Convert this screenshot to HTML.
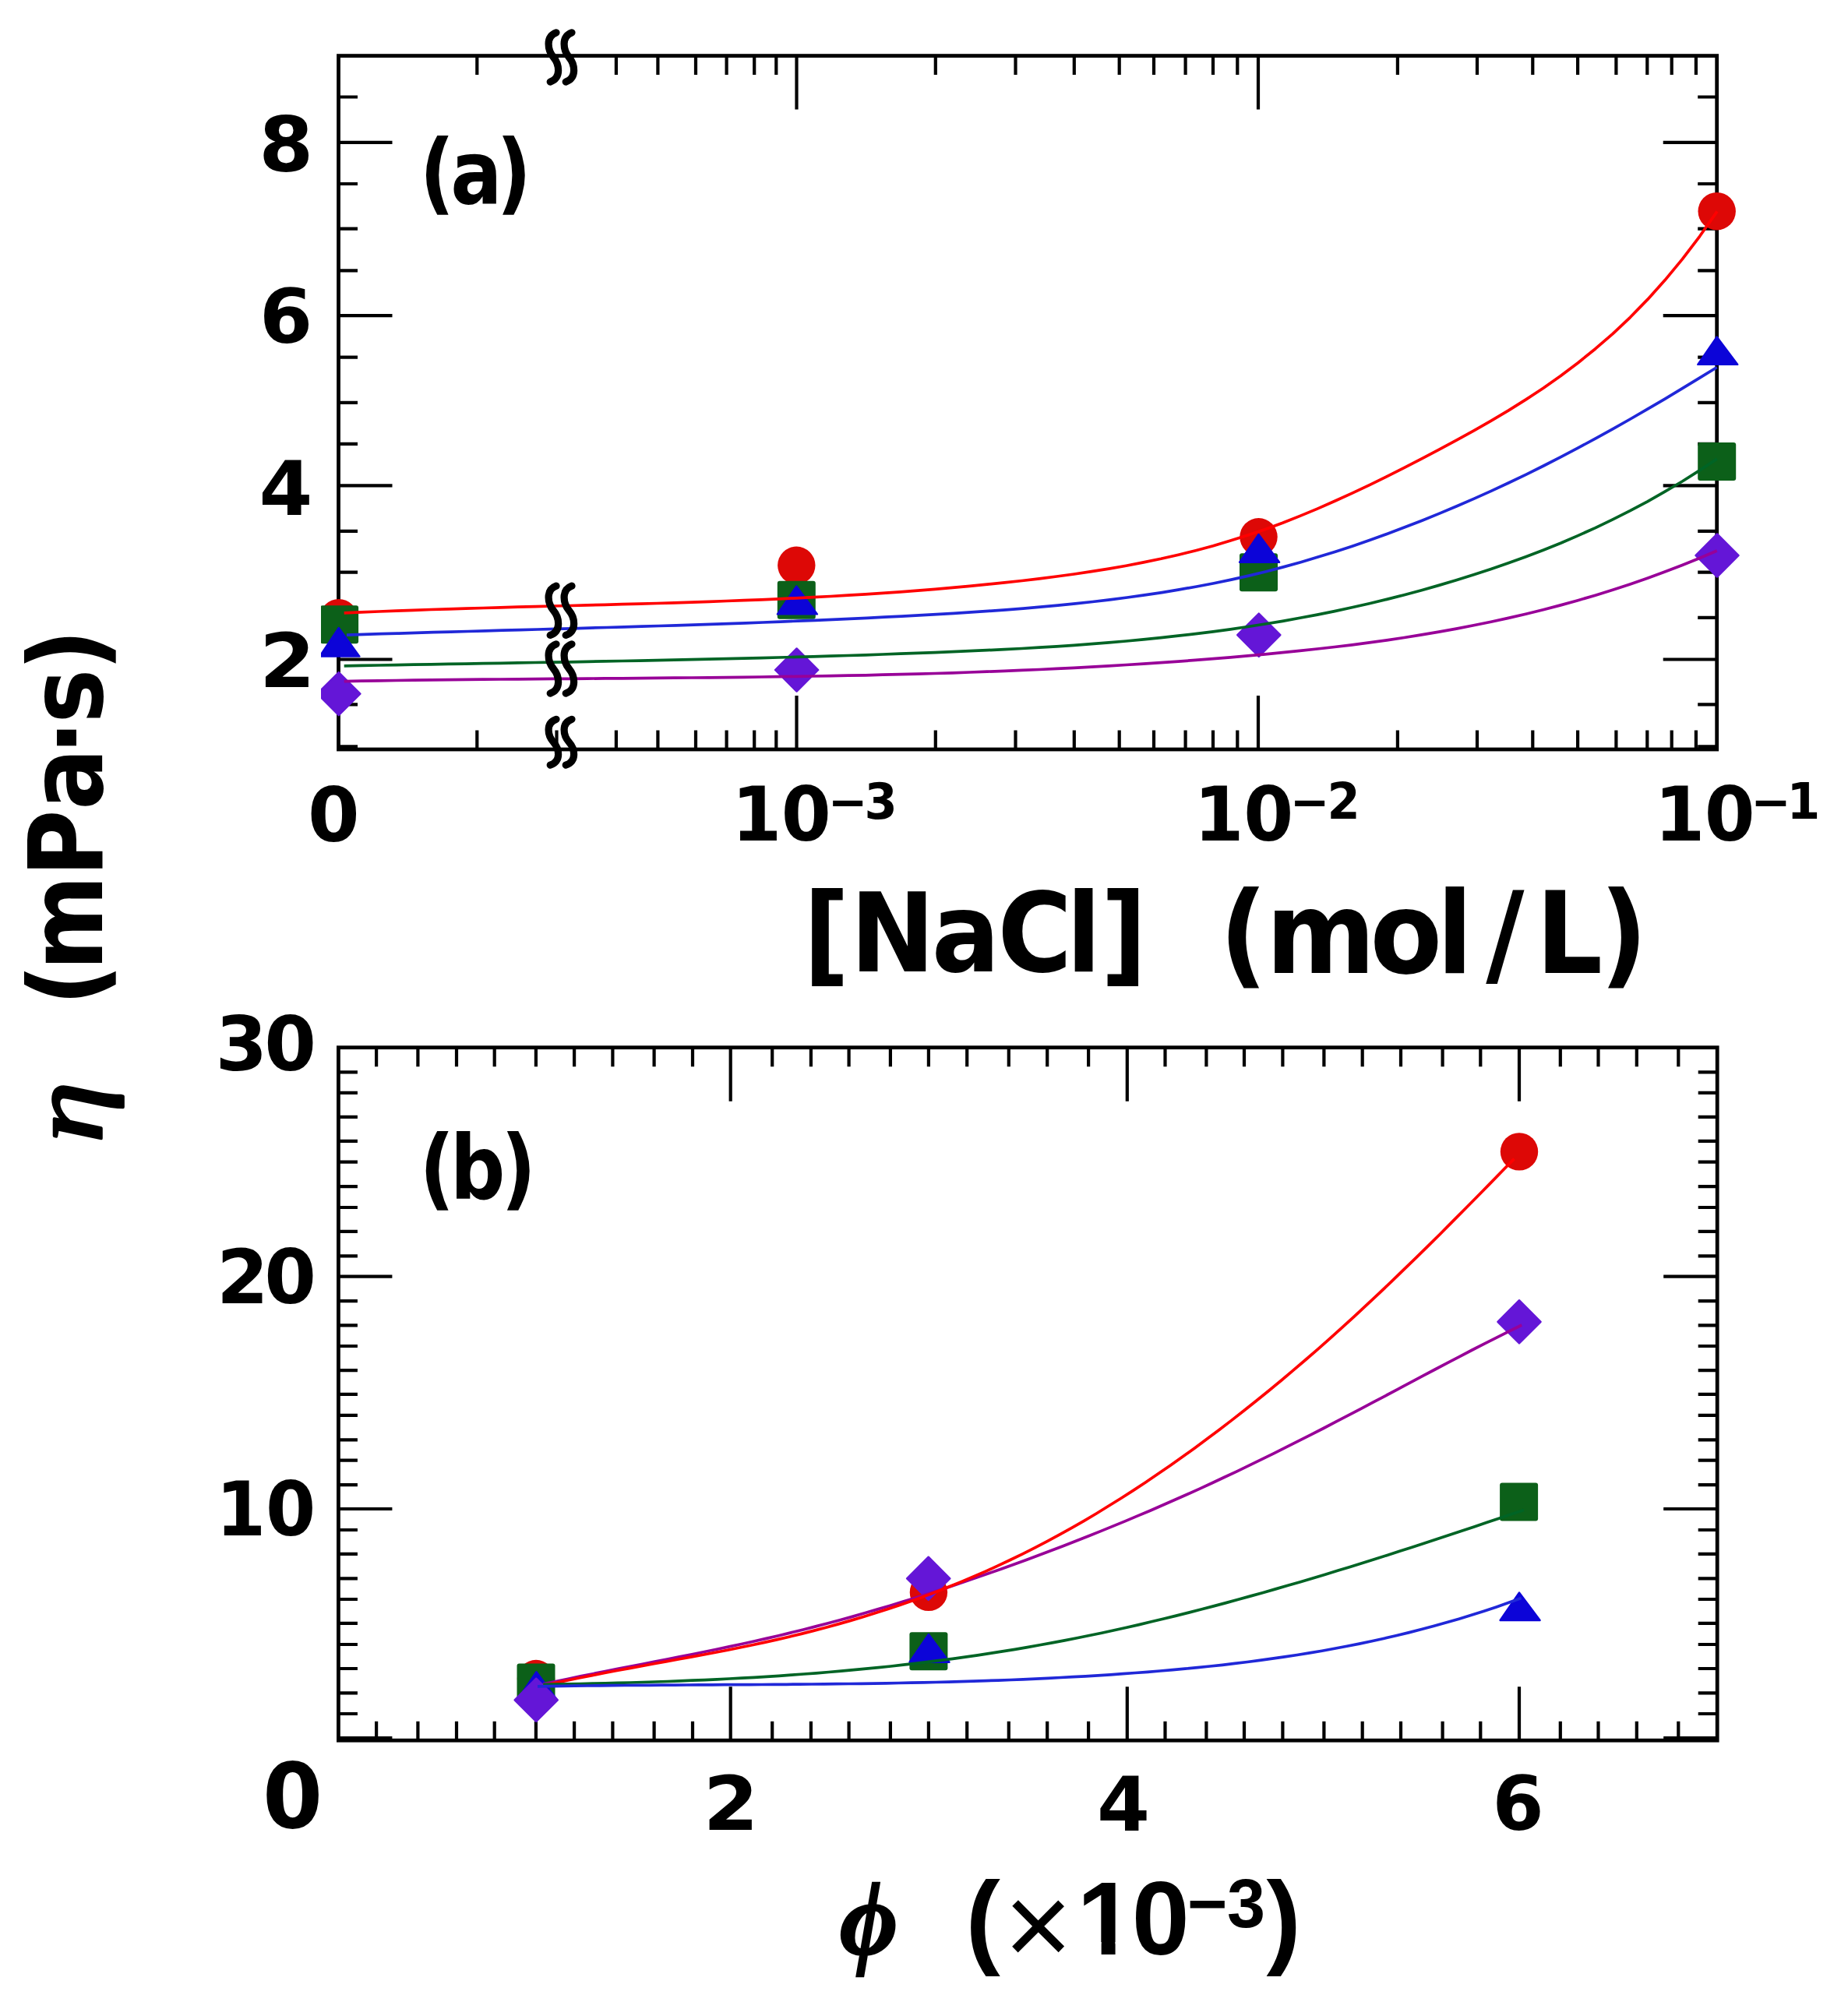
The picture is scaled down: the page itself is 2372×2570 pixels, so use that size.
<!DOCTYPE html>
<html lang="en">
<head>
<meta charset="utf-8">
<style>
html,body{margin:0;padding:0;background:#fff}
svg{display:block}
text{white-space:pre}
</style>
</head>
<body>
<svg width="2372" height="2570" viewBox="0 0 2372 2570">
<rect x="0" y="0" width="2372" height="2570" fill="#ffffff"/>
<g stroke="#000000" stroke-width="4.8" fill="none" stroke-linecap="butt">
<rect x="434.5" y="71.6" width="1769.2" height="890.4"/>
<path d="M434.5,124.5h24.5 M2203.7,124.5h-24.5 M434.5,182.8h69.0 M2203.7,182.8h-69.0 M434.5,236.0h24.5 M2203.7,236.0h-24.5 M434.5,293.6h24.5 M2203.7,293.6h-24.5 M434.5,347.4h24.5 M2203.7,347.4h-24.5 M434.5,405.2h69.0 M2203.7,405.2h-69.0 M434.5,458.6h24.5 M2203.7,458.6h-24.5 M434.5,516.8h24.5 M2203.7,516.8h-24.5 M434.5,569.8h24.5 M2203.7,569.8h-24.5 M434.5,623.3h69.0 M2203.7,623.3h-69.0 M434.5,681.8h24.5 M2203.7,681.8h-24.5 M434.5,734.6h24.5 M2203.7,734.6h-24.5 M434.5,792.9h24.5 M2203.7,792.9h-24.5 M434.5,846.5h69.0 M2203.7,846.5h-69.0 M434.5,904.3h24.5 M2203.7,904.3h-24.5 M434.5,958.3h24.5 M2203.7,958.3h-24.5 " stroke-width="4.2"/>
<path d="M612.3,71.6v24.5 M612.3,962.0v-24.5 M714.5,71.6v24.5 M714.5,962.0v-24.5 M790.9,71.6v24.5 M790.9,962.0v-24.5 M844.4,71.6v24.5 M844.4,962.0v-24.5 M893.0,71.6v24.5 M893.0,962.0v-24.5 M932.6,71.6v24.5 M932.6,962.0v-24.5 M968.2,71.6v24.5 M968.2,962.0v-24.5 M996.3,71.6v24.5 M996.3,962.0v-24.5 M1200.8,71.6v24.5 M1200.8,962.0v-24.5 M1303.5,71.6v24.5 M1303.5,962.0v-24.5 M1378.8,71.6v24.5 M1378.8,962.0v-24.5 M1436.7,71.6v24.5 M1436.7,962.0v-24.5 M1481.0,71.6v24.5 M1481.0,962.0v-24.5 M1521.6,71.6v24.5 M1521.6,962.0v-24.5 M1557.0,71.6v24.5 M1557.0,962.0v-24.5 M1588.3,71.6v24.5 M1588.3,962.0v-24.5 M1022.5,71.6v69.0 M1022.5,962.0v-69.0 M1793.9,71.6v24.5 M1793.9,962.0v-24.5 M1896.0,71.6v24.5 M1896.0,962.0v-24.5 M1967.3,71.6v24.5 M1967.3,962.0v-24.5 M2025.1,71.6v24.5 M2025.1,962.0v-24.5 M2074.4,71.6v24.5 M2074.4,962.0v-24.5 M2114.3,71.6v24.5 M2114.3,962.0v-24.5 M2145.7,71.6v24.5 M2145.7,962.0v-24.5 M2176.9,71.6v24.5 M2176.9,962.0v-24.5 M1615.0,71.6v69.0 M1615.0,962.0v-69.0 " stroke-width="4.2"/>
</g>
<clipPath id="cl0"><rect x="411.9" y="0" width="400" height="1200"/></clipPath>
<g clip-path="url(#cl0)">
<circle cx="434.8" cy="793.1" r="24.2" fill="#dd0806"/>
<rect x="411.1" y="777.2" width="49.0" height="49.0" rx="3" fill="#0c6019"/>
<polygon points="434.8,806.0 461.4,842.6 410.4,842.6" fill="#0c04d8" stroke="#0c04d8" stroke-width="2.4" stroke-linejoin="round"/>
<polygon points="434.8,863.0 462.4,890.6 434.8,918.2 407.2,890.6" fill="#6416d7" stroke="#6416d7" stroke-width="2.4" stroke-linejoin="round"/>
</g>
<circle cx="1022.3" cy="725.8" r="24.2" fill="#dd0806"/>
<rect x="997.8" y="745.7" width="49.0" height="49.0" rx="3" fill="#0c6019"/>
<polygon points="1022.3,752.5 1048.9,788.4 997.9,788.4" fill="#0c04d8" stroke="#0c04d8" stroke-width="2.4" stroke-linejoin="round"/>
<polygon points="1022.6,832.4 1050.2,860.0 1022.6,887.6 995.0,860.0" fill="#6416d7" stroke="#6416d7" stroke-width="2.4" stroke-linejoin="round"/>
<circle cx="1615.5" cy="689.3" r="24.2" fill="#dd0806"/>
<rect x="1591.0" y="710.3" width="49.0" height="49.0" rx="3" fill="#0c6019"/>
<polygon points="1615.5,686.0 1642.1,721.8 1591.1,721.8" fill="#0c04d8" stroke="#0c04d8" stroke-width="2.4" stroke-linejoin="round"/>
<polygon points="1615.8,787.6 1643.4,815.2 1615.8,842.8 1588.2,815.2" fill="#6416d7" stroke="#6416d7" stroke-width="2.4" stroke-linejoin="round"/>
<circle cx="2203.7" cy="271.2" r="24.2" fill="#dd0806"/>
<rect x="2179.2" y="567.9" width="49.0" height="49.0" rx="3" fill="#0c6019"/>
<polygon points="2203.7,432.4 2230.3,467.9 2179.3,467.9" fill="#0c04d8" stroke="#0c04d8" stroke-width="2.4" stroke-linejoin="round"/>
<polygon points="2204.0,685.4 2231.6,713.0 2204.0,740.6 2176.4,713.0" fill="#6416d7" stroke="#6416d7" stroke-width="2.4" stroke-linejoin="round"/>
<path d="M441.7,786.9 L464.0,785.9 L486.3,785.0 L508.6,784.1 L530.9,783.3 L553.2,782.5 L575.5,781.8 L597.9,781.1 L620.2,780.5 L642.5,779.8 L664.8,779.2 L687.1,778.6 L709.4,778.0 L731.7,777.5 L754.0,776.9 L776.3,776.3 L798.6,775.7 L820.9,775.1 L843.2,774.5 L865.5,773.8 L887.9,773.1 L910.2,772.3 L932.5,771.5 L954.8,770.7 L977.1,769.8 L999.4,768.8 L1021.7,767.8 L1044.0,766.7 L1066.3,765.5 L1088.6,764.2 L1110.9,762.9 L1133.2,761.4 L1155.5,759.8 L1177.9,758.2 L1200.2,756.4 L1222.5,754.4 L1244.8,752.4 L1267.1,750.2 L1289.4,747.9 L1311.7,745.5 L1334.0,742.9 L1356.3,740.0 L1378.6,737.0 L1400.9,733.7 L1423.2,730.1 L1445.5,726.2 L1467.8,721.9 L1490.2,717.3 L1512.5,712.2 L1534.8,706.7 L1557.1,700.7 L1579.4,694.1 L1601.7,687.1 L1624.0,679.4 L1646.3,671.2 L1668.6,662.4 L1690.9,653.1 L1713.2,643.3 L1735.5,633.1 L1757.8,622.6 L1780.2,611.6 L1802.5,600.4 L1824.8,588.9 L1847.1,577.2 L1869.4,565.2 L1891.7,552.9 L1914.0,540.2 L1936.3,526.9 L1958.6,512.9 L1980.9,498.2 L2003.2,482.5 L2025.5,465.7 L2047.8,447.7 L2070.2,428.3 L2092.5,407.3 L2114.8,384.4 L2137.1,359.6 L2159.4,332.6 L2181.7,303.3 L2204.0,271.4" fill="none" stroke="#ff0000" stroke-width="3.7" stroke-linecap="butt" stroke-linejoin="round"/>
<path d="M445.0,815.2 L467.3,814.4 L489.5,813.7 L511.8,813.1 L534.1,812.4 L556.3,811.7 L578.6,811.1 L600.8,810.5 L623.1,809.9 L645.4,809.2 L667.6,808.6 L689.9,808.0 L712.2,807.4 L734.4,806.8 L756.7,806.1 L778.9,805.5 L801.2,804.8 L823.5,804.2 L845.7,803.5 L868.0,802.8 L890.3,802.1 L912.5,801.3 L934.8,800.6 L957.1,799.8 L979.3,799.0 L1001.6,798.1 L1023.8,797.2 L1046.1,796.3 L1068.4,795.3 L1090.6,794.3 L1112.9,793.3 L1135.2,792.2 L1157.4,791.1 L1179.7,789.9 L1202.0,788.6 L1224.2,787.3 L1246.5,785.9 L1268.7,784.4 L1291.0,782.8 L1313.3,781.1 L1335.5,779.2 L1357.8,777.1 L1380.1,774.9 L1402.3,772.5 L1424.6,769.9 L1446.8,767.0 L1469.1,763.9 L1491.4,760.6 L1513.6,756.9 L1535.9,753.0 L1558.2,748.7 L1580.4,744.1 L1602.7,739.1 L1625.0,733.7 L1647.2,727.9 L1669.5,721.7 L1691.7,715.1 L1714.0,708.2 L1736.3,700.9 L1758.5,693.2 L1780.8,685.2 L1803.1,676.8 L1825.3,668.2 L1847.6,659.1 L1869.9,649.8 L1892.1,640.1 L1914.4,630.1 L1936.6,619.8 L1958.9,609.1 L1981.2,598.0 L2003.4,586.6 L2025.7,574.9 L2048.0,562.9 L2070.2,550.6 L2092.5,538.0 L2114.7,525.2 L2137.0,512.1 L2159.3,498.7 L2181.5,485.2 L2203.8,471.5" fill="none" stroke="#2028d8" stroke-width="3.7" stroke-linecap="butt" stroke-linejoin="round"/>
<path d="M441.7,854.8 L464.0,854.4 L486.3,854.0 L508.6,853.6 L530.9,853.2 L553.2,852.8 L575.5,852.4 L597.8,852.1 L620.1,851.7 L642.4,851.3 L664.8,850.9 L687.1,850.5 L709.4,850.1 L731.7,849.8 L754.0,849.3 L776.3,848.9 L798.6,848.5 L820.9,848.1 L843.2,847.6 L865.5,847.2 L887.8,846.7 L910.1,846.2 L932.4,845.7 L954.7,845.2 L977.0,844.6 L999.3,844.0 L1021.6,843.4 L1043.9,842.8 L1066.2,842.2 L1088.5,841.5 L1110.9,840.8 L1133.2,840.0 L1155.5,839.2 L1177.8,838.4 L1200.1,837.6 L1222.4,836.7 L1244.7,835.7 L1267.0,834.7 L1289.3,833.6 L1311.6,832.5 L1333.9,831.2 L1356.2,829.8 L1378.5,828.3 L1400.8,826.7 L1423.1,824.9 L1445.4,823.0 L1467.7,820.9 L1490.0,818.7 L1512.3,816.2 L1534.6,813.6 L1557.0,810.8 L1579.3,807.8 L1601.6,804.5 L1623.9,801.0 L1646.2,797.3 L1668.5,793.3 L1690.8,789.1 L1713.1,784.6 L1735.4,779.8 L1757.7,774.7 L1780.0,769.4 L1802.3,763.7 L1824.6,757.7 L1846.9,751.4 L1869.2,744.8 L1891.5,737.8 L1913.8,730.5 L1936.1,722.8 L1958.4,714.7 L1980.7,706.2 L2003.1,697.2 L2025.4,687.6 L2047.7,677.6 L2070.0,666.9 L2092.3,655.7 L2114.6,643.8 L2136.9,631.2 L2159.2,618.0 L2181.5,603.9 L2203.8,589.1" fill="none" stroke="#006425" stroke-width="3.7" stroke-linecap="butt" stroke-linejoin="round"/>
<path d="M441.7,874.6 L464.0,874.2 L486.3,873.8 L508.6,873.5 L530.9,873.2 L553.2,872.9 L575.5,872.6 L597.8,872.4 L620.1,872.2 L642.4,872.0 L664.8,871.8 L687.1,871.6 L709.4,871.4 L731.7,871.3 L754.0,871.1 L776.3,870.9 L798.6,870.8 L820.9,870.6 L843.2,870.4 L865.5,870.2 L887.8,870.0 L910.1,869.8 L932.4,869.6 L954.7,869.3 L977.0,869.0 L999.3,868.7 L1021.6,868.4 L1043.9,868.0 L1066.2,867.6 L1088.5,867.2 L1110.9,866.8 L1133.2,866.2 L1155.5,865.7 L1177.8,865.1 L1200.1,864.5 L1222.4,863.8 L1244.7,863.0 L1267.0,862.2 L1289.3,861.4 L1311.6,860.4 L1333.9,859.5 L1356.2,858.4 L1378.5,857.3 L1400.8,856.1 L1423.1,854.9 L1445.4,853.5 L1467.7,852.1 L1490.0,850.6 L1512.3,849.1 L1534.6,847.4 L1557.0,845.6 L1579.3,843.8 L1601.6,841.9 L1623.9,839.9 L1646.2,837.7 L1668.5,835.4 L1690.8,833.0 L1713.1,830.5 L1735.4,827.8 L1757.7,824.9 L1780.0,821.8 L1802.3,818.5 L1824.6,814.9 L1846.9,811.2 L1869.2,807.1 L1891.5,802.8 L1913.8,798.3 L1936.1,793.4 L1958.4,788.2 L1980.7,782.8 L2003.1,776.9 L2025.4,770.7 L2047.7,764.2 L2070.0,757.3 L2092.3,750.0 L2114.6,742.2 L2136.9,734.1 L2159.2,725.5 L2181.5,716.5 L2203.8,707.0" fill="none" stroke="#980098" stroke-width="3.7" stroke-linecap="butt" stroke-linejoin="round"/>
<path d="M714.0,41.9 C699.9,47.0 702.9,64.5 710.4,73.5 C717.9,82.5 720.9,100.0 706.2,105.1 M734.0,41.9 C719.9,47.0 722.9,64.5 730.4,73.5 C737.9,82.5 740.9,100.0 726.2,105.1" fill="none" stroke="#000000" stroke-width="9.2" stroke-linecap="round"/>
<path d="M714.0,752.2 C699.9,757.3 702.9,774.8 710.4,783.8 C717.9,792.8 720.9,810.3 706.2,815.4 M734.0,752.2 C719.9,757.3 722.9,774.8 730.4,783.8 C737.9,792.8 740.9,810.3 726.2,815.4" fill="none" stroke="#000000" stroke-width="9.2" stroke-linecap="round"/>
<path d="M714.0,826.9 C699.9,832.0 702.9,849.5 710.4,858.5 C717.9,867.5 720.9,885.0 706.2,890.1 M734.0,826.9 C719.9,832.0 722.9,849.5 730.4,858.5 C737.9,867.5 740.9,885.0 726.2,890.1" fill="none" stroke="#000000" stroke-width="9.2" stroke-linecap="round"/>
<path d="M714.0,923.3 C699.9,928.1 702.9,944.3 710.4,952.7 C717.9,961.1 720.9,977.3 706.2,982.1 M734.0,923.3 C719.9,928.1 722.9,944.3 730.4,952.7 C737.9,961.1 740.9,977.3 726.2,982.1" fill="none" stroke="#000000" stroke-width="9.2" stroke-linecap="round"/>
<g fill="#000000">
<text transform="matrix(1.0057 0 0 0.9771 332.16 219.52)" font-size="100" font-family="'DejaVu Sans', 'Liberation Sans', sans-serif" font-weight="bold" >8</text>
<text transform="matrix(0.9809 0 0 0.9664 332.92 440.33)" font-size="100" font-family="'DejaVu Sans', 'Liberation Sans', sans-serif" font-weight="bold" >6</text>
<text transform="matrix(0.9901 0 0 0.9588 332.55 660.90)" font-size="100" font-family="'DejaVu Sans', 'Liberation Sans', sans-serif" font-weight="bold" >4</text>
<text transform="matrix(1.0363 0 0 0.9607 332.80 882.00)" font-size="100" font-family="'DejaVu Sans', 'Liberation Sans', sans-serif" font-weight="bold" >2</text>
<text transform="matrix(0.9582 0 0 0.9612 394.91 1079.84)" font-size="100" font-family="'DejaVu Sans', 'Liberation Sans', sans-serif" font-weight="bold" >0</text>
<text transform="matrix(0.9199 0 0 0.9599 0 0)"><tspan x="1021.17 1090.07" y="1124.27" font-size="100" font-family="'DejaVu Sans', 'Liberation Sans', sans-serif" font-weight="bold" >10</tspan><tspan x="1155.04 1206.08" y="1094.50" font-size="66" font-family="'DejaVu Sans', 'Liberation Sans', sans-serif" font-weight="bold" >−3</tspan></text>
<text transform="matrix(0.9199 0 0 0.9599 0 0)"><tspan x="1665.90 1735.28" y="1124.27" font-size="100" font-family="'DejaVu Sans', 'Liberation Sans', sans-serif" font-weight="bold" >10</tspan><tspan x="1799.66 1851.79" y="1094.53" font-size="66" font-family="'DejaVu Sans', 'Liberation Sans', sans-serif" font-weight="bold" >−2</tspan></text>
<text transform="matrix(0.9332 0 0 0.9599 0 0)"><tspan x="2275.53 2344.28" y="1124.27" font-size="100" font-family="'DejaVu Sans', 'Liberation Sans', sans-serif" font-weight="bold" >10</tspan><tspan x="2407.78 2457.58" y="1094.54" font-size="66" font-family="'DejaVu Sans', 'Liberation Sans', sans-serif" font-weight="bold" >−1</tspan></text>
<text transform="matrix(0.8546 0 0 0.9950 0 0)"><tspan x="630.14 676.52 745.55" y="261.84" font-size="115" font-family="'DejaVu Sans', 'Liberation Sans', sans-serif" font-weight="bold" >(a)</tspan></text>
<text transform="matrix(0.9637 0 0 1.0449 0 0)"><tspan x="1069.94 1132.42 1240.82 1328.71 1420.41 1466.00" y="1193.55" font-size="135" font-family="'DejaVu Sans', 'Liberation Sans', sans-serif" font-weight="bold" >[NaCl]</tspan></text>
<text transform="matrix(0.9984 0 0 1.0779 0 0)"><tspan x="1567.73 1627.74 1761.33 1847.21 1910.35 1974.47 2056.63" y="1158.49" font-size="135" font-family="'DejaVu Sans', 'Liberation Sans', sans-serif" font-weight="bold" >(mol/L)</tspan></text>
<text transform="matrix(0 -1.0471 0.8794 0 129.85 1466.70)" font-size="150" font-family="'Liberation Serif', serif" font-style="italic" stroke="#000000" stroke-width="4.2" stroke-linejoin="round">η</text>
<text transform="matrix(0 -0.8820 0.9881 0 0 0)"><tspan x="-1463.58 -1412.45 -1275.97 -1178.78 -1098.95 -1052.69 -976.60" y="132.96" font-size="133" font-family="'DejaVu Sans', 'Liberation Sans', sans-serif" font-weight="bold" >(mPa·s)</tspan></text>
</g>
<g stroke="#000000" stroke-width="4.8" fill="none" stroke-linecap="butt">
<rect x="434.4" y="1344.7" width="1769.8" height="889.5"/>
<path d="M434.4,1376.3h24.5 M2204.2,1376.3h-24.5 M434.4,1402.9h24.5 M2204.2,1402.9h-24.5 M434.4,1433.8h24.5 M2204.2,1433.8h-24.5 M434.4,1464.9h24.5 M2204.2,1464.9h-24.5 M434.4,1491.6h24.5 M2204.2,1491.6h-24.5 M434.4,1523.1h24.5 M2204.2,1523.1h-24.5 M434.4,1550.0h24.5 M2204.2,1550.0h-24.5 M434.4,1580.8h24.5 M2204.2,1580.8h-24.5 M434.4,1612.3h24.5 M2204.2,1612.3h-24.5 M434.4,1638.6h69.0 M2204.2,1638.6h-69.0 M434.4,1670.1h24.5 M2204.2,1670.1h-24.5 M434.4,1701.3h24.5 M2204.2,1701.3h-24.5 M434.4,1728.0h24.5 M2204.2,1728.0h-24.5 M434.4,1759.1h24.5 M2204.2,1759.1h-24.5 M434.4,1789.9h24.5 M2204.2,1789.9h-24.5 M434.4,1816.9h24.5 M2204.2,1816.9h-24.5 M434.4,1848.4h24.5 M2204.2,1848.4h-24.5 M434.4,1874.7h24.5 M2204.2,1874.7h-24.5 M434.4,1906.2h24.5 M2204.2,1906.2h-24.5 M434.4,1937.0h69.0 M2204.2,1937.0h-69.0 M434.4,1964.0h24.5 M2204.2,1964.0h-24.5 M434.4,1994.8h24.5 M2204.2,1994.8h-24.5 M434.4,2026.3h24.5 M2204.2,2026.3h-24.5 M434.4,2053.0h24.5 M2204.2,2053.0h-24.5 M434.4,2083.8h24.5 M2204.2,2083.8h-24.5 M434.4,2111.0h24.5 M2204.2,2111.0h-24.5 M434.4,2142.0h24.5 M2204.2,2142.0h-24.5 M434.4,2173.4h24.5 M2204.2,2173.4h-24.5 M434.4,2200.0h24.5 M2204.2,2200.0h-24.5 M434.4,2231.0h69.0 M2204.2,2231.0h-69.0 " stroke-width="4.2"/>
<path d="M483.1,1344.7v24.5 M483.1,2234.2v-24.5 M536.4,1344.7v24.5 M536.4,2234.2v-24.5 M586.0,1344.7v24.5 M586.0,2234.2v-24.5 M634.7,1344.7v24.5 M634.7,2234.2v-24.5 M687.9,1344.7v24.5 M687.9,2234.2v-24.5 M737.1,1344.7v24.5 M737.1,2234.2v-24.5 M786.4,1344.7v24.5 M786.4,2234.2v-24.5 M839.6,1344.7v24.5 M839.6,2234.2v-24.5 M889.0,1344.7v24.5 M889.0,2234.2v-24.5 M937.7,1344.7v69.0 M937.7,2234.2v-69.0 M991.2,1344.7v24.5 M991.2,2234.2v-24.5 M1040.9,1344.7v24.5 M1040.9,2234.2v-24.5 M1089.6,1344.7v24.5 M1089.6,2234.2v-24.5 M1142.9,1344.7v24.5 M1142.9,2234.2v-24.5 M1191.9,1344.7v24.5 M1191.9,2234.2v-24.5 M1241.2,1344.7v24.5 M1241.2,2234.2v-24.5 M1294.8,1344.7v24.5 M1294.8,2234.2v-24.5 M1344.2,1344.7v24.5 M1344.2,2234.2v-24.5 M1397.1,1344.7v24.5 M1397.1,2234.2v-24.5 M1446.8,1344.7v69.0 M1446.8,2234.2v-69.0 M1495.5,1344.7v24.5 M1495.5,2234.2v-24.5 M1548.4,1344.7v24.5 M1548.4,2234.2v-24.5 M1597.0,1344.7v24.5 M1597.0,2234.2v-24.5 M1646.4,1344.7v24.5 M1646.4,2234.2v-24.5 M1699.4,1344.7v24.5 M1699.4,2234.2v-24.5 M1748.7,1344.7v24.5 M1748.7,2234.2v-24.5 M1798.0,1344.7v24.5 M1798.0,2234.2v-24.5 M1851.6,1344.7v24.5 M1851.6,2234.2v-24.5 M1900.3,1344.7v24.5 M1900.3,2234.2v-24.5 M1950.0,1344.7v69.0 M1950.0,2234.2v-69.0 M2002.8,1344.7v24.5 M2002.8,2234.2v-24.5 M2051.5,1344.7v24.5 M2051.5,2234.2v-24.5 M2100.8,1344.7v24.5 M2100.8,2234.2v-24.5 M2154.3,1344.7v24.5 M2154.3,2234.2v-24.5 " stroke-width="4.2"/>
</g>
<circle cx="688.0" cy="2155.0" r="24.2" fill="#dd0806"/>
<rect x="663.5" y="2135.5" width="49.0" height="49.0" rx="3" fill="#0c6019"/>
<polygon points="688.5,2146.2 715.1,2182.1 664.1,2182.1" fill="#0c04d8" stroke="#0c04d8" stroke-width="2.4" stroke-linejoin="round"/>
<polygon points="688.2,2154.7 715.8,2182.3 688.2,2209.9 660.6,2182.3" fill="#6416d7" stroke="#6416d7" stroke-width="2.4" stroke-linejoin="round"/>
<circle cx="1191.9" cy="2043.9" r="24.2" fill="#dd0806"/>
<rect x="1167.4" y="2095.3" width="49.0" height="49.0" rx="3" fill="#0c6019"/>
<polygon points="1191.9,2098.0 1218.5,2133.8 1167.5,2133.8" fill="#0c04d8" stroke="#0c04d8" stroke-width="2.4" stroke-linejoin="round"/>
<polygon points="1191.7,1998.7 1219.3,2026.3 1191.7,2053.9 1164.1,2026.3" fill="#6416d7" stroke="#6416d7" stroke-width="2.4" stroke-linejoin="round"/>
<circle cx="1950.0" cy="1478.4" r="24.2" fill="#dd0806"/>
<rect x="1925.1" y="1903.5" width="49.0" height="49.0" rx="3" fill="#0c6019"/>
<polygon points="1950.0,2044.4 1976.6,2080.0 1925.6,2080.0" fill="#0c04d8" stroke="#0c04d8" stroke-width="2.4" stroke-linejoin="round"/>
<polygon points="1950.0,1669.2 1977.6,1696.8 1950.0,1724.4 1922.4,1696.8" fill="#6416d7" stroke="#6416d7" stroke-width="2.4" stroke-linejoin="round"/>
<path d="M697.3,2161.9 L713.2,2158.5 L729.1,2155.2 L745.0,2151.9 L760.9,2148.7 L776.8,2145.6 L792.7,2142.4 L808.6,2139.3 L824.5,2136.2 L840.4,2133.1 L856.3,2130.0 L872.2,2126.9 L888.1,2123.7 L904.0,2120.5 L919.9,2117.3 L935.8,2113.9 L951.7,2110.5 L967.6,2107.0 L983.5,2103.4 L999.4,2099.7 L1015.2,2095.9 L1031.1,2092.0 L1047.0,2087.9 L1062.9,2083.8 L1078.8,2079.5 L1094.7,2075.1 L1110.6,2070.5 L1126.5,2065.9 L1142.4,2061.2 L1158.3,2056.3 L1174.2,2051.4 L1190.1,2046.3 L1206.0,2041.2 L1221.9,2035.9 L1237.8,2030.6 L1253.7,2025.1 L1269.6,2019.6 L1285.5,2014.0 L1301.4,2008.2 L1317.3,2002.4 L1333.2,1996.5 L1349.1,1990.5 L1365.0,1984.4 L1380.9,1978.2 L1396.8,1972.0 L1412.7,1965.6 L1428.6,1959.1 L1444.5,1952.6 L1460.4,1945.9 L1476.3,1939.2 L1492.2,1932.3 L1508.1,1925.3 L1524.0,1918.3 L1539.9,1911.1 L1555.8,1903.7 L1571.7,1896.3 L1587.6,1888.8 L1603.5,1881.2 L1619.4,1873.4 L1635.3,1865.6 L1651.1,1857.7 L1667.0,1849.7 L1682.9,1841.6 L1698.8,1833.5 L1714.7,1825.2 L1730.6,1816.9 L1746.5,1808.6 L1762.4,1800.2 L1778.3,1791.8 L1794.2,1783.3 L1810.1,1774.8 L1826.0,1766.4 L1841.9,1758.0 L1857.8,1749.6 L1873.7,1741.3 L1889.6,1733.0 L1905.5,1724.8 L1921.4,1716.8 L1937.3,1708.8 L1953.2,1701.0" fill="none" stroke="#980098" stroke-width="3.7" stroke-linecap="butt" stroke-linejoin="round"/>
<path d="M697.3,2163.9 L713.1,2160.4 L728.8,2157.0 L744.6,2153.7 L760.4,2150.6 L776.2,2147.5 L791.9,2144.5 L807.7,2141.6 L823.5,2138.7 L839.3,2135.8 L855.0,2132.9 L870.8,2130.0 L886.6,2127.1 L902.4,2124.2 L918.1,2121.2 L933.9,2118.2 L949.7,2115.0 L965.5,2111.8 L981.2,2108.4 L997.0,2104.9 L1012.8,2101.2 L1028.6,2097.4 L1044.3,2093.4 L1060.1,2089.3 L1075.9,2084.9 L1091.7,2080.4 L1107.4,2075.7 L1123.2,2070.8 L1139.0,2065.7 L1154.8,2060.4 L1170.5,2054.9 L1186.3,2049.2 L1202.1,2043.2 L1217.9,2037.0 L1233.6,2030.6 L1249.4,2024.0 L1265.2,2017.1 L1281.0,2009.9 L1296.7,2002.5 L1312.5,1994.8 L1328.3,1986.9 L1344.1,1978.6 L1359.8,1970.1 L1375.6,1961.3 L1391.4,1952.3 L1407.2,1943.0 L1422.9,1933.3 L1438.7,1923.5 L1454.5,1913.4 L1470.3,1903.0 L1486.0,1892.3 L1501.8,1881.4 L1517.6,1870.3 L1533.4,1858.9 L1549.1,1847.3 L1564.9,1835.4 L1580.7,1823.4 L1596.5,1811.0 L1612.2,1798.5 L1628.0,1785.7 L1643.8,1772.7 L1659.6,1759.4 L1675.3,1746.0 L1691.1,1732.3 L1706.9,1718.3 L1722.7,1704.2 L1738.4,1689.8 L1754.2,1675.2 L1770.0,1660.4 L1785.8,1645.4 L1801.5,1630.2 L1817.3,1614.9 L1833.1,1599.4 L1848.9,1583.7 L1864.6,1567.9 L1880.4,1552.0 L1896.2,1536.0 L1912.0,1519.9 L1927.7,1503.8 L1943.5,1487.6" fill="none" stroke="#ff0000" stroke-width="3.7" stroke-linecap="butt" stroke-linejoin="round"/>
<path d="M697.3,2162.3 L713.2,2162.1 L729.2,2161.8 L745.1,2161.5 L761.0,2161.2 L777.0,2160.8 L792.9,2160.4 L808.8,2160.0 L824.7,2159.5 L840.7,2159.0 L856.6,2158.5 L872.5,2157.9 L888.5,2157.2 L904.4,2156.6 L920.3,2155.8 L936.3,2155.0 L952.2,2154.2 L968.1,2153.3 L984.0,2152.3 L1000.0,2151.3 L1015.9,2150.2 L1031.8,2149.0 L1047.8,2147.8 L1063.7,2146.5 L1079.6,2145.2 L1095.6,2143.7 L1111.5,2142.2 L1127.4,2140.6 L1143.4,2139.0 L1159.3,2137.2 L1175.2,2135.4 L1191.1,2133.4 L1207.1,2131.4 L1223.0,2129.3 L1238.9,2127.1 L1254.9,2124.8 L1270.8,2122.4 L1286.7,2119.9 L1302.7,2117.3 L1318.6,2114.6 L1334.5,2111.8 L1350.4,2108.9 L1366.4,2105.9 L1382.3,2102.7 L1398.2,2099.5 L1414.2,2096.2 L1430.1,2092.7 L1446.0,2089.2 L1462.0,2085.6 L1477.9,2081.8 L1493.8,2078.0 L1509.7,2074.1 L1525.7,2070.1 L1541.6,2066.0 L1557.5,2061.9 L1573.5,2057.6 L1589.4,2053.3 L1605.3,2048.9 L1621.3,2044.5 L1637.2,2039.9 L1653.1,2035.3 L1669.1,2030.7 L1685.0,2025.9 L1700.9,2021.2 L1716.8,2016.3 L1732.8,2011.4 L1748.7,2006.5 L1764.6,2001.5 L1780.6,1996.4 L1796.5,1991.3 L1812.4,1986.2 L1828.4,1981.0 L1844.3,1975.8 L1860.2,1970.5 L1876.1,1965.3 L1892.1,1959.9 L1908.0,1954.6 L1923.9,1949.2 L1939.9,1943.8 L1955.8,1938.4" fill="none" stroke="#006425" stroke-width="3.7" stroke-linecap="butt" stroke-linejoin="round"/>
<path d="M690.0,2164.8 L706.0,2164.6 L722.0,2164.4 L737.9,2164.1 L753.9,2164.0 L769.9,2163.8 L785.9,2163.6 L801.9,2163.5 L817.9,2163.4 L833.8,2163.3 L849.8,2163.2 L865.8,2163.1 L881.8,2163.0 L897.8,2162.9 L913.8,2162.8 L929.7,2162.7 L945.7,2162.6 L961.7,2162.6 L977.7,2162.5 L993.7,2162.4 L1009.6,2162.3 L1025.6,2162.1 L1041.6,2162.0 L1057.6,2161.8 L1073.6,2161.7 L1089.6,2161.5 L1105.5,2161.3 L1121.5,2161.1 L1137.5,2160.8 L1153.5,2160.5 L1169.5,2160.2 L1185.5,2159.9 L1201.4,2159.5 L1217.4,2159.1 L1233.4,2158.6 L1249.4,2158.2 L1265.4,2157.6 L1281.3,2157.1 L1297.3,2156.5 L1313.3,2155.8 L1329.3,2155.1 L1345.3,2154.3 L1361.3,2153.5 L1377.2,2152.7 L1393.2,2151.8 L1409.2,2150.8 L1425.2,2149.8 L1441.2,2148.7 L1457.1,2147.5 L1473.1,2146.3 L1489.1,2145.0 L1505.1,2143.6 L1521.1,2142.2 L1537.1,2140.7 L1553.0,2139.0 L1569.0,2137.3 L1585.0,2135.4 L1601.0,2133.5 L1617.0,2131.4 L1633.0,2129.2 L1648.9,2126.9 L1664.9,2124.5 L1680.9,2121.9 L1696.9,2119.2 L1712.9,2116.3 L1728.8,2113.3 L1744.8,2110.1 L1760.8,2106.7 L1776.8,2103.2 L1792.8,2099.5 L1808.8,2095.6 L1824.7,2091.5 L1840.7,2087.3 L1856.7,2082.8 L1872.7,2078.2 L1888.7,2073.3 L1904.7,2068.2 L1920.6,2062.9 L1936.6,2057.3 L1952.6,2051.6" fill="none" stroke="#2028d8" stroke-width="3.7" stroke-linecap="butt" stroke-linejoin="round"/>
<g fill="#000000">
<text transform="matrix(0.9598 0 0 0.9652 0 0)"><tspan x="288.08 353.50" y="1423.42" font-size="100" font-family="'DejaVu Sans', 'Liberation Sans', sans-serif" font-weight="bold" >30</tspan></text>
<text transform="matrix(0.9598 0 0 0.9652 0 0)"><tspan x="289.72 353.50" y="1733.59" font-size="100" font-family="'DejaVu Sans', 'Liberation Sans', sans-serif" font-weight="bold" >20</tspan></text>
<text transform="matrix(0.9232 0 0 0.9586 0 0)"><tspan x="300.16 369.46" y="2056.27" font-size="100" font-family="'DejaVu Sans', 'Liberation Sans', sans-serif" font-weight="bold" >10</tspan></text>
<text transform="matrix(0.9651 0 0 1.0083 336.89 2345.56)" font-size="115" font-family="'DejaVu Sans', 'Liberation Sans', sans-serif" font-weight="bold" >0</text>
<text transform="matrix(1.0249 0 0 0.9688 902.39 2349.30)" font-size="100" font-family="'DejaVu Sans', 'Liberation Sans', sans-serif" font-weight="bold" >2</text>
<text transform="matrix(0.9785 0 0 0.9643 1407.90 2350.10)" font-size="100" font-family="'DejaVu Sans', 'Liberation Sans', sans-serif" font-weight="bold" >4</text>
<text transform="matrix(0.9516 0 0 0.9691 1915.50 2349.43)" font-size="100" font-family="'DejaVu Sans', 'Liberation Sans', sans-serif" font-weight="bold" >6</text>
<text transform="matrix(0.8593 0 0 0.9950 0 0)"><tspan x="626.52 672.39 748.21" y="1546.24" font-size="115" font-family="'DejaVu Sans', 'Liberation Sans', sans-serif" font-weight="bold" >(b)</tspan></text>
<text transform="matrix(0.9175 0 0 0.9532 1077.99 2508.69)" font-size="140" font-family="'Liberation Serif', serif" font-weight="bold" font-style="italic" stroke="#000000" stroke-width="2.6">ϕ</text>
<text transform="matrix(1.0007 0 0 1.0075 0 0)"><tspan x="1238.57" y="2489.89" font-size="133" font-family="'Liberation Sans', sans-serif" font-weight="bold" >(</tspan><tspan x="1287.97" y="2503.95" font-size="150" font-family="'Liberation Sans', sans-serif" >×</tspan><tspan x="1381.34 1451.66" y="2489.89" font-size="133" font-family="'Liberation Sans', sans-serif" font-weight="bold" >10</tspan><tspan x="1522.93 1573.97" y="2455.19" font-size="88" font-family="'Liberation Sans', sans-serif" font-weight="bold" >−3</tspan><tspan x="1624.28" y="2489.89" font-size="133" font-family="'Liberation Sans', sans-serif" font-weight="bold" >)</tspan></text>
</g>
<rect x="1378" y="2493" width="35.65" height="21" fill="#fff"/>
<rect x="1431.57" y="2493" width="22" height="21" fill="#fff"/>
</svg>
</body>
</html>
